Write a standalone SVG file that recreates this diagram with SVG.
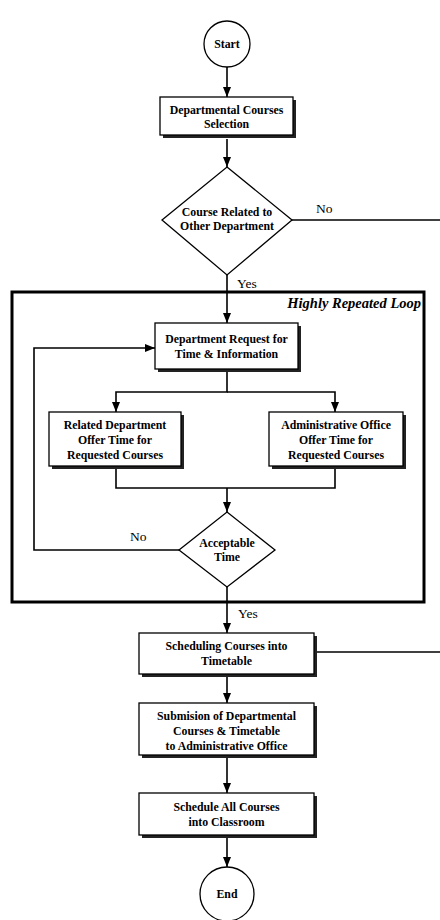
<svg xmlns="http://www.w3.org/2000/svg" width="440" height="920" viewBox="0 0 440 920">
<defs>
<marker id="arr" viewBox="0 0 10 8" refX="10" refY="4" markerWidth="10" markerHeight="8" markerUnits="userSpaceOnUse" orient="auto">
<path d="M0,0 L10,4 L0,8 Z" fill="#000"/>
</marker>
<style>
.t{font-family:"Liberation Serif","Times New Roman",serif;font-size:11.8px;font-weight:bold;fill:#000;text-anchor:middle}
.l{font-family:"Liberation Serif","Times New Roman",serif;font-size:13.5px;fill:#000}
.box{fill:#fff;stroke:#000;stroke-width:1.3}
.sh{fill:#222}
.shape{fill:#fff;stroke:#000;stroke-width:1.3}
.c{fill:none;stroke:#000;stroke-width:1.6}
</style>
</defs>
<rect width="440" height="920" fill="#fff"/>

<g id="loop">
<rect x="12" y="292" width="412" height="310" fill="none" stroke="#000" stroke-width="3"/>
<text x="421" y="308" font-family="Liberation Serif,serif" font-size="14.5" font-weight="bold" font-style="italic" text-anchor="end">Highly Repeated Loop</text>
</g>

<g id="connectors">
<path class="c" d="M227,67 V97" marker-end="url(#arr)"/>
<path class="c" d="M227,139 V167" marker-end="url(#arr)"/>
<path class="c" d="M292,220 H440"/>
<path class="c" d="M227,275 V323" marker-end="url(#arr)"/>
<path class="c" d="M227,372 V392 H116 V412" marker-end="url(#arr)"/>
<path class="c" d="M227,392 H335 V412" marker-end="url(#arr)"/>
<path class="c" d="M116,469 V488 H335 V469"/>
<path class="c" d="M227,488 V512" marker-end="url(#arr)"/>
<path class="c" d="M179,550 H34 V348 H155" marker-end="url(#arr)"/>
<path class="c" d="M227,587 V633" marker-end="url(#arr)"/>
<path class="c" d="M317,652 H440"/>
<path class="c" d="M227,677 V703" marker-end="url(#arr)"/>
<path class="c" d="M227,758 V793" marker-end="url(#arr)"/>
<path class="c" d="M227,838 V867" marker-end="url(#arr)"/>
<text class="l" x="316" y="213">No</text>
<text class="l" x="237" y="288">Yes</text>
<text class="l" x="130" y="541">No</text>
<text class="l" x="238" y="618">Yes</text>
</g>

<g id="start">
<circle class="shape" cx="227" cy="44" r="23"/>
<text class="t" x="227" y="48">Start</text>
</g>

<g id="dept-selection">
<rect class="sh" x="163" y="100" width="133" height="38"/>
<rect class="box" x="160" y="97" width="133" height="38"/>
<text class="t" x="226.5" y="114">Departmental Courses</text>
<text class="t" x="226.5" y="128">Selection</text>
</g>

<g id="course-related">
<polygon class="shape" points="227,167 292,220 227,275 162,220"/>
<text class="t" x="227" y="216">Course Related to</text>
<text class="t" x="227" y="230">Other Department</text>
</g>

<g id="dept-request">
<rect class="sh" x="158" y="326" width="143" height="46"/>
<rect class="box" x="155" y="323" width="143" height="46"/>
<text class="t" x="226.5" y="343">Department Request for</text>
<text class="t" x="226.5" y="358">Time &amp; Information</text>
</g>

<g id="related-dept">
<rect class="sh" x="52" y="415" width="132" height="54"/>
<rect class="box" x="49" y="412" width="132" height="54"/>
<text class="t" x="115" y="429">Related Department</text>
<text class="t" x="115" y="444">Offer Time for</text>
<text class="t" x="115" y="459">Requested Courses</text>
</g>

<g id="admin-office">
<rect class="sh" x="272" y="415" width="134" height="54"/>
<rect class="box" x="269" y="412" width="134" height="54"/>
<text class="t" x="336" y="429">Administrative Office</text>
<text class="t" x="336" y="444">Offer Time for</text>
<text class="t" x="336" y="459">Requested Courses</text>
</g>

<g id="acceptable">
<polygon class="shape" points="227,512 275,550 227,587 179,550"/>
<text class="t" x="227" y="547">Acceptable</text>
<text class="t" x="227" y="561">Time</text>
</g>

<g id="scheduling">
<rect class="sh" x="142" y="636" width="175" height="41"/>
<rect class="box" x="139" y="633" width="175" height="41"/>
<text class="t" x="226.5" y="650">Scheduling Courses into</text>
<text class="t" x="226.5" y="665">Timetable</text>
</g>

<g id="submission">
<rect class="sh" x="142" y="706" width="175" height="52"/>
<rect class="box" x="139" y="703" width="175" height="52"/>
<text class="t" x="226.5" y="720">Submision of Departmental</text>
<text class="t" x="226.5" y="735">Courses &amp; Timetable</text>
<text class="t" x="226.5" y="750">to Administrative Office</text>
</g>

<g id="schedule-all">
<rect class="sh" x="142" y="796" width="175" height="42"/>
<rect class="box" x="139" y="793" width="175" height="42"/>
<text class="t" x="226.5" y="811">Schedule All Courses</text>
<text class="t" x="226.5" y="826">into Classroom</text>
</g>

<g id="end">
<circle class="shape" cx="227" cy="894" r="27"/>
<text class="t" x="227" y="898">End</text>
</g>
</svg>
